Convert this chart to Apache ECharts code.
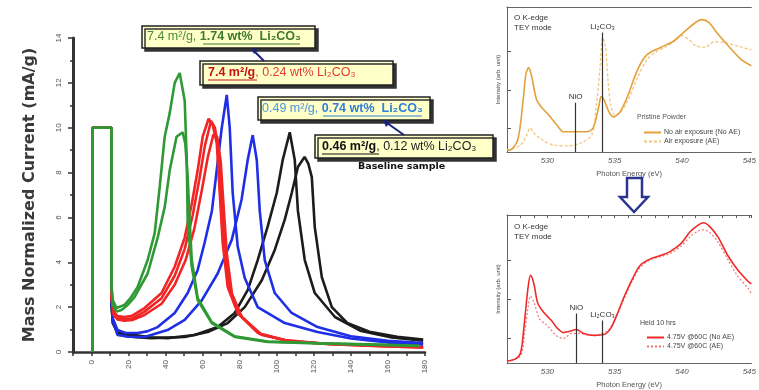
<!DOCTYPE html>
<html>
<head>
<meta charset="utf-8">
<script src="https://cdn.jsdelivr.net/npm/echarts@6/dist/echarts.min.js"></script>
<style>
  html, body { margin: 0; padding: 0; background: #fff; }
  #chart { width: 759px; height: 390px; }
</style>
</head>
<body>
<div id="chart"></div>
<script>
// ---- main plot: mass normalized current vs x ----
const stepStart = [[0.5, 0], [0.5, 10], [10.8, 10]];

const green1 = [[10.8,2.9],[11.5,2.3],[13.5,1.96],[17.8,2.1],[21,2.4],[24.9,2.9],[30.3,4.1],[34.1,5.3],[36.8,7.36],[39.5,9.6],[42.2,10.65],[44.9,12.0],[47.6,12.44],[50.3,11.2],[51.4,8.56],[51.9,5.8],[54.1,3.8],[57.3,2.32],[64.9,1.29],[77.3,0.67],[95.1,0.45],[123,0.38],[150,0.33],[177,0.27]];
const green2 = [[10.8,2.9],[11.5,2.1],[13.5,1.8],[16.2,1.87],[19.5,2.1],[23.2,2.45],[30.3,3.5],[35.7,5.1],[39.5,6.46],[42.2,8.1],[45.9,9.6],[49.2,9.8],[50.6,9.3],[51.9,7.8],[53.0,5.8],[54.1,4.1],[57.3,2.4],[64.9,1.33],[77.3,0.7],[95.1,0.47],[123,0.39],[150,0.34],[177,0.28]];
const red1 = [[10.8,2.5],[12,1.8],[14,1.6],[17.8,1.56],[22,1.62],[28.6,1.96],[37.8,2.63],[44.9,3.8],[50.3,5.1],[54.1,6.6],[57.3,8.1],[60,9.6],[63.2,10.4],[65.5,10.1],[67.6,9.3],[69.2,7.1],[70.8,4.86],[73.5,2.9],[78.9,1.74],[89.7,0.85],[104.3,0.53],[125,0.38],[152,0.29],[179,0.22]];
const red2 = [[10.8,2.4],[12,1.7],[14,1.5],[17.8,1.46],[22,1.5],[28.6,1.8],[37.8,2.4],[44.9,3.4],[50.3,4.6],[54.6,6.1],[58.2,7.7],[61.2,9.2],[64.5,10.3],[66.6,10.0],[68.6,9.0],[70.2,6.9],[71.8,4.7],[74.6,2.8],[80,1.65],[91,0.8],[105.5,0.5],[127,0.36],[154,0.27],[179,0.2]];
const red3 = [[10.8,2.4],[12,1.65],[14,1.45],[17.8,1.4],[22,1.43],[28.6,1.65],[37.8,2.15],[44.9,3.0],[50.8,4.1],[55.5,5.5],[59.5,7.2],[62.8,8.7],[65.8,9.7],[67.8,9.6],[69.7,8.5],[71.3,6.5],[73,4.4],[75.8,2.6],[81.2,1.55],[92,0.76],[107,0.48],[129,0.35],[156,0.26],[179,0.2]];
const blue1 = [[10.8,2.3],[11.5,1.5],[14,0.98],[18.5,0.85],[24.9,0.85],[30,0.92],[35.7,1.11],[44.9,1.74],[51.9,2.63],[57.3,3.66],[61,4.86],[65,6.3],[68,8.4],[70.3,10.0],[73,11.46],[74.6,10.0],[76.2,7.1],[78.9,4.7],[82.7,3.3],[89.7,2.0],[104.3,1.29],[122,0.89],[140,0.6],[160,0.42],[179,0.33]];
const blue2 = [[10.8,2.3],[11.5,1.4],[14,0.76],[20,0.68],[28.6,0.67],[41,0.98],[50.3,1.43],[59.5,2.3],[68.1,3.5],[75.7,5.0],[81,6.8],[84.3,8.56],[87,9.67],[89.2,8.56],[90.8,6.3],[93.5,4.1],[98.9,2.63],[108,1.74],[122,1.11],[140,0.7],[160,0.5],[179,0.4]];
const black1 = [[10.8,2.1],[11.5,1.3],[14,0.89],[18,0.78],[23.2,0.76],[32,0.66],[41,0.62],[55.7,0.76],[68.1,1.11],[77.3,1.74],[84.3,2.76],[89.7,4.1],[95.1,5.6],[100,7.1],[103.2,8.56],[107,9.8],[109.7,8.56],[111.4,6.3],[115.1,4.1],[120.5,2.63],[131.4,1.56],[145,0.95],[162,0.65],[179,0.5]];
const black2 = [[10.8,2.1],[11.5,1.3],[14,0.85],[18,0.72],[24,0.66],[32.4,0.62],[50.3,0.67],[62.7,0.89],[73.5,1.29],[82.7,2.0],[91.9,3.2],[98.9,4.55],[104.3,5.9],[108.1,7.1],[111.4,8.25],[115,8.7],[117,8.4],[118.9,7.8],[120.5,5.57],[124.3,3.34],[129.7,2.0],[138,1.3],[150,0.9],[165,0.68],[179,0.55]];

// ---- top right: O K-edge TEY, pristine powder ----
const noAE = [[527,0.42],[527.2,0.42],[527.8,0.69],[528.2,1.74],[528.4,2.4],[528.6,2.58],[528.8,2.4],[529.2,1.74],[529.6,1.53],[530.1,1.34],[530.7,1.08],[531.2,0.9],[531.9,0.9],[532.9,0.9],[533.4,1.0],[533.8,1.53],[534.0,1.82],[534.2,1.74],[534.6,1.4],[534.9,1.29],[535.4,1.42],[536.0,1.87],[536.7,2.53],[537.4,2.92],[538.4,3.11],[539.3,3.26],[540.2,3.53],[541.1,3.79],[541.5,3.84],[542.0,3.76],[542.7,3.45],[543.7,3.05],[544.4,2.79],[545.15,2.63]];
const airAE = [[527,0.42],[528,0.55],[528.5,0.84],[528.7,1.0],[529,0.87],[529.6,0.69],[530.5,0.55],[531.5,0.53],[532.5,0.61],[533.3,0.82],[533.6,1.48],[533.9,2.53],[534.1,3.37],[534.3,3.19],[534.5,2.26],[534.7,1.61],[535.0,1.34],[535.4,1.4],[536.0,1.74],[536.7,2.32],[537.4,2.79],[538.1,3.0],[538.8,3.13],[539.6,3.32],[540.0,3.42],[540.5,3.32],[541.0,3.16],[541.7,3.11],[542.4,3.26],[543.2,3.24],[544.3,3.13],[545.15,3.05]];

// ---- bottom right: held 10 hrs ----
const heldNoAE = [[527,0.42],[527.6,0.47],[528,0.62],[528.25,1.26],[528.55,2.27],[528.75,2.62],[529.0,2.4],[529.3,1.89],[529.8,1.64],[530.3,1.46],[530.75,1.26],[531.2,1.15],[531.6,1.18],[532.15,1.23],[532.7,1.13],[533.5,1.08],[534.2,1.1],[534.7,1.26],[535.2,1.64],[535.7,2.07],[536.3,2.52],[536.9,2.88],[537.7,3.05],[538.4,3.13],[539.1,3.23],[539.9,3.43],[540.6,3.74],[541.2,3.91],[541.6,3.97],[542.1,3.86],[542.7,3.59],[543.4,3.13],[544.1,2.78],[544.9,2.47],[545.15,2.4]];
const heldAE = [[527,0.42],[528,0.55],[528.3,1.13],[528.55,1.76],[528.75,2.09],[529.0,1.94],[529.4,1.51],[529.9,1.36],[530.3,1.21],[530.75,1.05],[531.2,1.0],[531.8,1.13],[532.4,1.13],[533.1,1.08],[533.8,1.1],[534.6,1.23],[535.2,1.61],[535.7,2.02],[536.3,2.47],[536.9,2.83],[537.7,3.03],[538.4,3.1],[539.1,3.18],[539.9,3.36],[540.6,3.61],[541.2,3.76],[541.6,3.79],[542.1,3.71],[542.7,3.46],[543.4,3.03],[544.1,2.62],[544.9,2.29],[545.15,2.15]];

// reference lines (eV, top of line)
const refTop = [{ name: 'NiO', x: 532.1, top: 1.66 }, { name: 'Li₂CO₃', x: 534.1, top: 3.5 }];
const refBottom = [{ name: 'NiO', x: 532.15, top: 1.64 }, { name: 'Li₂CO₃', x: 534.1, top: 1.46 }];

const mainSeries = [
    { name: 'black2', data: black2, color: '#1c1c1c' },
    { name: 'black1', data: black1, color: '#1c1c1c' },
    { name: 'blue2', data: blue2, color: '#1f2fe6' },
    { name: 'blue1', data: blue1, color: '#1f2fe6' },
    { name: 'red3', data: red3, color: '#f22525' },
    { name: 'red2', data: red2, color: '#f22525' },
    { name: 'red1', data: red1, color: '#f22525' },
    { name: 'green2', data: green2, color: '#2f9a35' },
    { name: 'green1', data: green1, color: '#2f9a35' },
].map((item) => ({
    name: item.name,
    type: 'line',
    xAxisIndex: 0,
    yAxisIndex: 0,
    data: stepStart.concat(item.data),
    symbol: 'none',
    lineStyle: { color: item.color, width: 2.6 },
    z: 3,
}));

const refMark = (list) => ({
    silent: true,
    symbol: 'none',
    lineStyle: { color: '#333', width: 1.2, type: 'solid' },
    label: { show: true, position: 'end', formatter: '{b}', fontSize: 8, color: '#333', distance: 2 },
    data: list.map((r) => [{ name: r.name, coord: [r.x, 0.37] }, { coord: [r.x, r.top] }]),
});

const smallAxisY = (grid) => ({
    type: 'value',
    gridIndex: grid,
    min: 0.37,
    max: 4.17,
    name: 'Intensity (arb. unit)',
    nameLocation: 'middle',
    nameGap: 6,
    nameTextStyle: { fontSize: 6, color: '#444' },
    splitLine: { show: false },
    axisLine: { show: true, lineStyle: { color: '#666', width: 1 } },
    axisTick: { show: true, inside: true, length: 4, customValues: [1, 2, 3], lineStyle: { color: '#555' } },
    axisLabel: { show: false },
});
const smallAxisX = (grid) => ({
    type: 'value',
    gridIndex: grid,
    min: 527,
    max: 545.15,
    name: 'Photon Energy (eV)',
    nameLocation: 'middle',
    nameGap: 18,
    nameTextStyle: { fontSize: 7.5, color: '#555' },
    splitLine: { show: false },
    axisLine: { lineStyle: { color: '#666', width: 1 } },
    axisTick: { show: false },
    axisLabel: { customValues: [530, 535, 540, 545], fontSize: 8, color: '#555', fontStyle: 'italic', margin: 5 },
});

const smallLegend = {
    orient: 'vertical', itemWidth: 17, itemHeight: 6, itemGap: 2,
    itemStyle: { color: 'rgba(0,0,0,0)', borderWidth: 0 },
    textStyle: { fontSize: 7, color: '#444', padding: [0, 0, 0, -2] },
};

let myChart = echarts.init(document.getElementById('chart'), null, { renderer: 'canvas' });
let option = {
    animation: false,
    backgroundColor: '#fff',
    textStyle: { fontFamily: 'Liberation Sans' },
    grid: [
        { left: 73, top: 38, width: 352, height: 314 },
        { left: 507, top: 7, width: 248, height: 145 },
        { left: 507, top: 215, width: 248, height: 150 },
    ],
    xAxis: [
        {
            type: 'value', gridIndex: 0, min: -10, max: 180, interval: 10,
            splitLine: { show: false },
            axisLine: { onZero: false, lineStyle: { color: '#333', width: 2.5 } },
            axisTick: { length: 4, lineStyle: { color: '#333', width: 1.5 } },
            axisLabel: {
                rotate: 90, fontSize: 8, color: '#555', margin: 8,
                formatter: (v) => (v >= 0 && v % 20 === 0 ? String(v) : ''),
            },
        },
        smallAxisX(1),
        {
            type: 'value', gridIndex: 1, position: 'top', min: 527, max: 545.15,
            axisLine: { lineStyle: { color: '#666', width: 1 } },
            axisTick: { show: false }, axisLabel: { show: false }, splitLine: { show: false },
        },
        smallAxisX(2),
        {
            type: 'value', gridIndex: 2, position: 'top', min: 527, max: 545.15, interval: 1,
            axisLine: { lineStyle: { color: '#666', width: 1 } },
            axisTick: { inside: true, length: 3, lineStyle: { color: '#555' } },
            axisLabel: { show: false }, splitLine: { show: false },
        },
    ],
    yAxis: [
        {
            type: 'value', gridIndex: 0, min: 0, max: 14, interval: 2,
            name: 'Mass Normalized Current (mA/g)',
            nameLocation: 'middle',
            nameGap: 35,
            nameTextStyle: { fontSize: 16, fontWeight: 'bold', color: '#3a3a3a', fontFamily: 'DejaVu Sans' },
            splitLine: { show: false },
            axisLine: { show: true, onZero: false, lineStyle: { color: '#333', width: 3 } },
            axisTick: { length: 5, lineStyle: { color: '#333', width: 1.5 } },
            minorTick: { show: true, splitNumber: 2, length: 3, lineStyle: { color: '#333', width: 1.5 } },
            axisLabel: { rotate: 90, fontSize: 8, color: '#555', margin: 10 },
        },
        smallAxisY(1),
        smallAxisY(2),
    ],
    legend: [
        Object.assign({ data: ['No air exposure (No AE)', 'Air exposure (AE)'], left: 638, top: 124 }, smallLegend),
        Object.assign({ data: ['4.75V @60C (No AE)', '4.75V @60C (AE)'], left: 641, top: 329 }, smallLegend),
    ],
    series: mainSeries.concat([
        {
            name: 'Air exposure (AE)', type: 'line', xAxisIndex: 1, yAxisIndex: 1, data: airAE,
            symbol: 'none', smooth: 0.3, color: '#f2c57a',
            lineStyle: { color: '#f2c57a', width: 1.3, type: [3, 2] },
            markLine: refMark(refTop),
        },
        {
            name: 'No air exposure (No AE)', type: 'line', xAxisIndex: 1, yAxisIndex: 1, data: noAE,
            symbol: 'none', smooth: 0.3, color: '#e3a03c',
            lineStyle: { color: '#e3a03c', width: 1.6 },
        },
        {
            name: '4.75V @60C (AE)', type: 'line', xAxisIndex: 3, yAxisIndex: 2, data: heldAE,
            symbol: 'none', smooth: 0.3, color: '#f27575',
            lineStyle: { color: '#f27575', width: 1.2, type: [2, 2] },
            markLine: refMark(refBottom),
        },
        {
            name: '4.75V @60C (No AE)', type: 'line', xAxisIndex: 3, yAxisIndex: 2, data: heldNoAE,
            symbol: 'none', smooth: 0.3, color: '#ee2a2a',
            lineStyle: { color: '#ee2a2a', width: 1.6 },
        },
    ]),
    graphic: [
        // annotation boxes
        { type: 'rect', shape: { x: 142, y: 26, width: 173, height: 22 }, style: { fill: '#ffffc8', stroke: '#222', lineWidth: 1.5, shadowColor: '#333', shadowOffsetX: 3, shadowOffsetY: 3 }, z: 10 },
        {
            type: 'text', x: 147, y: 30, z: 11,
            style: {
                text: '{n|7.4 m²/g, }{b|1.74 wt%  Li₂CO₃}',
                rich: { n: { fontSize: 12.5, fill: '#4c8a3a', fontFamily: 'Liberation Sans' }, b: { fontSize: 12.5, fontWeight: 'bold', fill: '#3f7a2e', fontFamily: 'Liberation Sans' } },
            },
        },
        { type: 'line', shape: { x1: 203, y1: 44, x2: 300, y2: 44 }, style: { stroke: '#3f7a2e', lineWidth: 1.2 }, z: 11 },

        { type: 'rect', shape: { x: 200, y: 61, width: 193, height: 24 }, style: { fill: '#ffffc8', stroke: '#222', lineWidth: 1.5, shadowColor: '#333', shadowOffsetX: 3, shadowOffsetY: 3 }, z: 10 },
        {
            type: 'text', x: 208, y: 66, z: 11,
            style: {
                text: '{b|7.4 m²/g}{n|, 0.24 wt% Li₂CO₃}',
                rich: { n: { fontSize: 12.5, fill: '#e03a3a', fontFamily: 'Liberation Sans' }, b: { fontSize: 12.5, fontWeight: 'bold', fill: '#c41414', fontFamily: 'Liberation Sans' } },
            },
        },
        { type: 'line', shape: { x1: 208, y1: 80, x2: 257, y2: 80 }, style: { stroke: '#c41414', lineWidth: 1.2 }, z: 11 },

        { type: 'rect', shape: { x: 258, y: 97, width: 172, height: 23 }, style: { fill: '#ffffc8', stroke: '#222', lineWidth: 1.5, shadowColor: '#333', shadowOffsetX: 3, shadowOffsetY: 3 }, z: 10 },
        {
            type: 'text', x: 262, y: 102, z: 11,
            style: {
                text: '{n|0.49 m²/g, }{b|0.74 wt%  Li₂CO₃}',
                rich: { n: { fontSize: 12.5, fill: '#4a94e6', fontFamily: 'Liberation Sans' }, b: { fontSize: 12.5, fontWeight: 'bold', fill: '#2f7fd8', fontFamily: 'Liberation Sans' } },
            },
        },
        { type: 'line', shape: { x1: 323, y1: 116, x2: 422, y2: 116 }, style: { stroke: '#2f7fd8', lineWidth: 1.2 }, z: 11 },

        { type: 'rect', shape: { x: 315, y: 135, width: 178, height: 23 }, style: { fill: '#ffffc8', stroke: '#222', lineWidth: 1.5, shadowColor: '#333', shadowOffsetX: 3, shadowOffsetY: 3 }, z: 10 },
        {
            type: 'text', x: 322, y: 140, z: 11,
            style: {
                text: '{b|0.46 m²/g}{n|, 0.12 wt% Li₂CO₃}',
                rich: { n: { fontSize: 12.5, fill: '#222', fontFamily: 'Liberation Sans' }, b: { fontSize: 12.5, fontWeight: 'bold', fill: '#111', fontFamily: 'Liberation Sans' } },
            },
        },
        { type: 'line', shape: { x1: 322, y1: 154, x2: 379, y2: 154 }, style: { stroke: '#111', lineWidth: 1.2 }, z: 11 },
        { type: 'text', x: 358, y: 162, z: 11, style: { text: 'Baseline sample', fontSize: 9.5, fontWeight: 'bold', fill: '#111', fontFamily: 'DejaVu Sans' } },

        // arrows between boxes
        { type: 'line', shape: { x1: 264, y1: 61, x2: 254, y2: 51 }, style: { stroke: '#1a237e', lineWidth: 2 }, z: 12 },
        { type: 'polygon', shape: { points: [[251, 48], [258, 50], [254, 54]] }, style: { fill: '#1a237e' }, z: 12 },
        { type: 'line', shape: { x1: 404, y1: 135, x2: 387, y2: 123 }, style: { stroke: '#1a237e', lineWidth: 2 }, z: 12 },
        { type: 'polygon', shape: { points: [[383, 120], [391, 122], [386, 127]] }, style: { fill: '#1a237e' }, z: 12 },

        // right panel texts
        { type: 'text', x: 514, y: 13, style: { text: 'O K-edge\nTEY mode', fontSize: 8, lineHeight: 10, fill: '#333', fontFamily: 'Liberation Sans' } },
        { type: 'text', x: 637, y: 114, style: { text: 'Pristine Powder', fontSize: 7, fill: '#555', fontFamily: 'Liberation Sans' } },
        { type: 'text', x: 514, y: 222, style: { text: 'O K-edge\nTEY mode', fontSize: 8, lineHeight: 10, fill: '#333', fontFamily: 'Liberation Sans' } },
        { type: 'text', x: 640, y: 320, style: { text: 'Held 10 hrs', fontSize: 7, fill: '#444', fontFamily: 'Liberation Sans' } },

        // hollow down arrow
        {
            type: 'polygon', z: 12,
            shape: { points: [[627, 178], [642, 178], [642, 197], [648, 197], [634, 212], [620, 197], [627, 197]] },
            style: { fill: '#fff', stroke: '#2a3590', lineWidth: 2.5 },
        },
    ],
};
myChart.setOption(option);
</script>
</body>
</html>
